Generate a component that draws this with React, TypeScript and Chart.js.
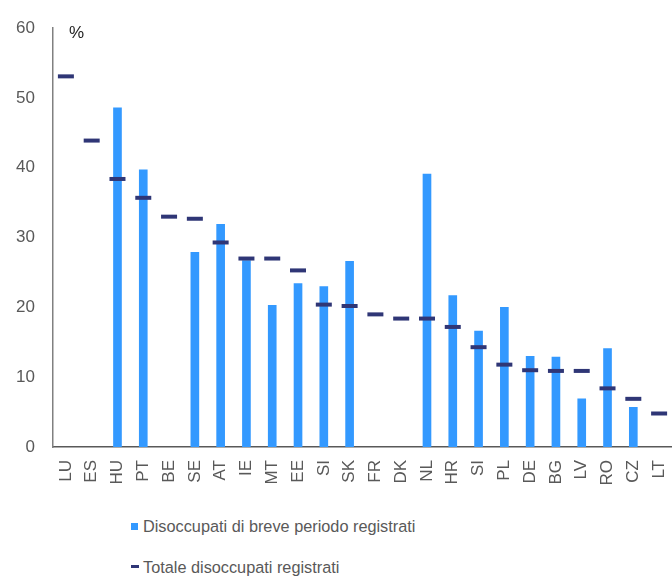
import React, { useEffect, useRef } from 'react';
import { Chart, registerables } from 'chart.js';

Chart.register(...registerables);

const categories = ['LU', 'ES', 'HU', 'PT', 'BE', 'SE', 'AT', 'IE', 'MT', 'EE', 'SI', 'SK', 'FR', 'DK', 'NL', 'HR', 'SI', 'PL', 'DE', 'BG', 'LV', 'RO', 'CZ', 'LT'];
const shortTermUnemployed = [null, null, 48.6, 39.7, null, 27.9, 31.9, 26.7, 20.3, 23.4, 23.0, 26.6, null, null, 39.1, 21.7, 16.6, 20.0, 13.0, 12.9, 6.9, 14.1, 5.7, null];
const totalUnemployed = [53.1, 43.9, 38.4, 35.7, 33.0, 32.7, 29.3, 27.0, 27.0, 25.3, 20.4, 20.2, 19.0, 18.4, 18.4, 17.2, 14.3, 11.8, 11.0, 10.9, 10.9, 8.4, 6.9, 4.8];
const yMin = 0;
const yMax = 60;
const yStep = 10;
const seriesNames = ['Disoccupati di breve periodo registrati', 'Totale disoccupati registrati'];
const unitLabel = '%';

const BAR_COLOR = '#3399FF';
const DASH_COLOR = '#2F3676';
const TEXT_COLOR = '#595959';
const FONT = '"Liberation Sans", Arial, sans-serif';

export default function App() {
  const canvasRef = useRef<HTMLCanvasElement | null>(null);

  useEffect(() => {
    document.body.style.margin = '0';
    const canvas = canvasRef.current;
    if (!canvas) return;

    const unitPlugin = {
      id: 'unitLabel',
      afterDraw(chart: any) {
        const { ctx, chartArea } = chart;
        ctx.save();
        ctx.fillStyle = '#222222';
        ctx.font = `17px ${FONT}`;
        ctx.textAlign = 'left';
        ctx.textBaseline = 'middle';
        ctx.fillText(unitLabel, chartArea.left + 16, chartArea.top + 5);
        ctx.restore();
      },
    };

    const chart = new Chart(canvas, {
      type: 'bar',
      data: {
        labels: categories,
        datasets: [
          {
            type: 'line',
            label: seriesNames[1],
            data: totalUnemployed,
            showLine: false,
            pointStyle: 'line',
            pointRadius: 8,
            pointHoverRadius: 8,
            pointBorderWidth: 4,
            pointBorderColor: DASH_COLOR,
            borderColor: DASH_COLOR,
            backgroundColor: DASH_COLOR,
            clip: false,
            order: 0,
          } as any,
          {
            type: 'bar',
            label: seriesNames[0],
            data: shortTermUnemployed,
            backgroundColor: BAR_COLOR,
            barThickness: 8,
            order: 1,
          },
        ],
      },
      options: {
        animation: false,
        responsive: false,
        maintainAspectRatio: false,
        layout: { autoPadding: false, padding: { top: 27, right: 0, left: 0, bottom: 0 } },
        plugins: {
          legend: { display: false },
          tooltip: { enabled: false },
        },
        scales: {
          x: {
            grid: { display: false, drawTicks: false },
            border: { display: true, color: '#595959', width: 1.5 },
            ticks: {
              color: TEXT_COLOR,
              font: { family: FONT, size: 17 },
              minRotation: 90,
              maxRotation: 90,
              autoSkip: false,
              padding: 13,
            },
            afterFit(scale: any) {
              scale.height = 53;
              scale.paddingLeft = 0;
              scale.paddingRight = 0;
            },
          },
          y: {
            min: yMin,
            max: yMax,
            grid: { display: false, drawTicks: false },
            border: { display: true, color: '#808080', width: 1.5 },
            ticks: {
              stepSize: yStep,
              color: TEXT_COLOR,
              font: { family: FONT, size: 17 },
              padding: 18,
            },
            afterFit(scale: any) {
              scale.width = 53;
            },
          },
        },
      },
      plugins: [unitPlugin],
    });

    return () => chart.destroy();
  }, []);

  const legendText: React.CSSProperties = {
    position: 'absolute',
    left: 143,
    fontFamily: FONT,
    fontSize: 16.3,
    color: TEXT_COLOR,
    lineHeight: '20px',
    whiteSpace: 'nowrap',
  };

  return (
    <div style={{ position: 'relative', width: 672, height: 579, background: '#ffffff' }}>
      <canvas ref={canvasRef} width={672} height={500} style={{ display: 'block', width: 672, height: 500 }} />
      <div style={{ position: 'absolute', left: 131, top: 523, width: 7, height: 7, background: BAR_COLOR }} />
      <div style={{ ...legendText, top: 516 }}>{seriesNames[0]}</div>
      <div style={{ position: 'absolute', left: 131, top: 565, width: 8, height: 3, background: DASH_COLOR }} />
      <div style={{ ...legendText, top: 557 }}>{seriesNames[1]}</div>
    </div>
  );
}
